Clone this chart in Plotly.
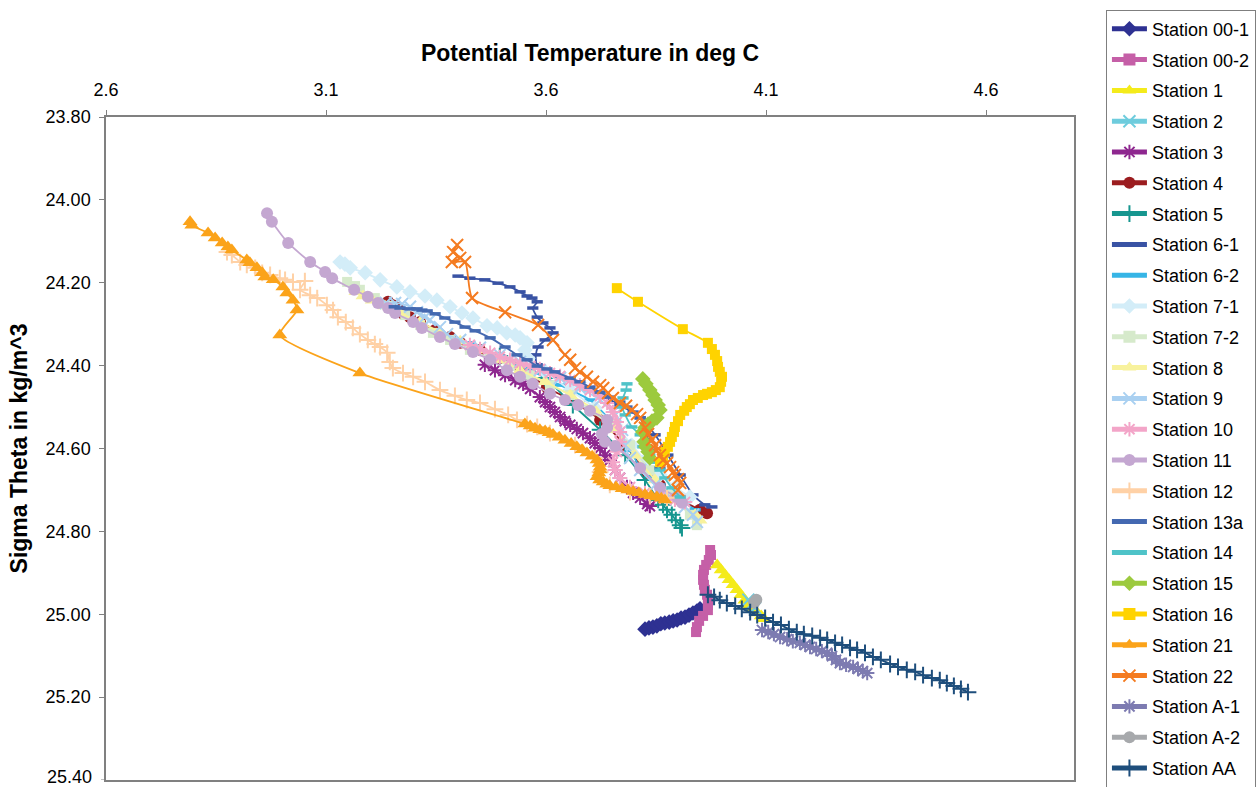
import plotly.graph_objects as go

# ---------------- data (Potential temperature, Sigma-theta) ----------------
names = ["Station 00-1", "Station 00-2", "Station 1", "Station 2", "Station 3", "Station 4",
         "Station 5", "Station 6-1", "Station 6-2", "Station 7-1", "Station 7-2", "Station 8",
         "Station 9", "Station 10", "Station 11", "Station 12", "Station 13a", "Station 14",
         "Station 15", "Station 16", "Station 21", "Station 22", "Station A-1", "Station A-2",
         "Station AA"]

s001_t = [3.825, 3.834, 3.843, 3.852, 3.861, 3.870, 3.880, 3.889, 3.898, 3.907, 3.916, 3.925, 3.934, 3.943, 3.950]
s001_s = [25.036, 25.033, 25.031, 25.028, 25.023, 25.021, 25.019, 25.016, 25.014, 25.009, 25.007, 25.002, 24.997, 24.992, 24.987]

s002_t = [3.973, 3.975, 3.970, 3.964, 3.959, 3.957, 3.957, 3.959, 3.961, 3.966, 3.968, 3.968, 3.968, 3.957, 3.948, 3.943, 3.941]
s002_s = [24.845, 24.857, 24.869, 24.881, 24.893, 24.905, 24.917, 24.929, 24.941, 24.953, 24.966, 24.978, 24.990, 25.004, 25.016, 25.031, 25.043]

s1_t = [3.989, 3.998, 4.007, 4.016, 4.025, 4.034, 4.043, 4.052, 4.061, 4.070, 4.080, 4.089, 4.095]
s1_s = [24.881, 24.893, 24.905, 24.917, 24.929, 24.941, 24.953, 24.966, 24.978, 24.987, 24.997, 25.004, 25.011]

s2_t = [4.060, 4.068, 4.075]
s2_s = [24.965, 24.975, 24.985]

s3_t = [3.461, 3.484, 3.507, 3.530, 3.548, 3.564, 3.586, 3.598, 3.609, 3.620, 3.632, 3.643, 3.655, 3.670,
        3.684, 3.700, 3.711, 3.723, 3.734, 3.745, 3.757, 3.768, 3.784, 3.798, 3.814, 3.830, 3.836]
s3_s = [24.398, 24.411, 24.423, 24.435, 24.444, 24.456, 24.476, 24.488, 24.500, 24.512, 24.524, 24.534, 24.543, 24.553,
        24.563, 24.575, 24.587, 24.599, 24.616, 24.628, 24.652, 24.671, 24.693, 24.707, 24.719, 24.734, 24.739]

s4_t = [3.241, 3.252, 3.264, 3.275, 3.291, 3.314, 3.348, 3.382, 3.405, 3.450, 3.495, 3.541, 3.602, 3.655,
        3.723, 3.780, 3.814, 3.830, 3.859, 3.905, 3.950, 3.966]
s4_s = [24.246, 24.254, 24.261, 24.275, 24.283, 24.295, 24.314, 24.331, 24.345, 24.362, 24.382, 24.406, 24.452, 24.483,
        24.531, 24.592, 24.640, 24.659, 24.688, 24.724, 24.748, 24.756]

s5_t = [3.495, 3.541, 3.598, 3.661, 3.723, 3.780, 3.825, 3.855, 3.866, 3.875, 3.886, 3.895, 3.905, 3.909]
s5_s = [24.377, 24.398, 24.430, 24.495, 24.555, 24.616, 24.676, 24.724, 24.736, 24.748, 24.760, 24.773, 24.785, 24.792]

s61_t = [3.400, 3.427, 3.461, 3.491, 3.518, 3.541, 3.557, 3.568, 3.580, 3.570, 3.580, 3.593, 3.609, 3.616,
         3.598, 3.582, 3.577, 3.580, 3.632, 3.700, 3.768, 3.814, 3.848, 3.877, 3.905, 3.934, 3.961, 3.977]
s61_s = [24.184, 24.189, 24.193, 24.201, 24.210, 24.222, 24.232, 24.237, 24.246, 24.261, 24.283, 24.297, 24.309, 24.321,
         24.338, 24.355, 24.374, 24.398, 24.427, 24.459, 24.495, 24.526, 24.567, 24.616, 24.664, 24.712, 24.736, 24.741]

s62_t = [3.427, 3.495, 3.564, 3.632, 3.700, 3.745, 3.791, 3.814, 3.859, 3.905, 3.939]
s62_s = [24.345, 24.377, 24.411, 24.447, 24.483, 24.531, 24.604, 24.645, 24.688, 24.724, 24.748]

s71_t = [3.132, 3.143, 3.155, 3.189, 3.223, 3.261, 3.291, 3.325, 3.352, 3.382, 3.409, 3.434, 3.466, 3.489, 3.511,
         3.530, 3.541, 3.557, 3.552, 3.559, 3.598, 3.655, 3.711, 3.757, 3.795, 3.825, 3.859, 3.893, 3.927]
s71_s = [24.150, 24.155, 24.164, 24.176, 24.193, 24.210, 24.222, 24.232, 24.242, 24.258, 24.273, 24.285, 24.304, 24.309, 24.321,
         24.326, 24.333, 24.345, 24.362, 24.382, 24.415, 24.459, 24.502, 24.543, 24.592, 24.628, 24.664, 24.693, 24.717]

s72_t = [3.148, 3.166, 3.177, 3.211, 3.245, 3.280, 3.314, 3.343, 3.382, 3.427, 3.473, 3.518, 3.564, 3.609,
         3.655, 3.700, 3.745, 3.791, 3.836, 3.882, 3.927, 3.943]
s72_s = [24.198, 24.208, 24.217, 24.237, 24.256, 24.278, 24.302, 24.321, 24.338, 24.362, 24.382, 24.401, 24.423, 24.447,
         24.471, 24.507, 24.543, 24.592, 24.652, 24.712, 24.760, 24.785]

s8_t = [3.168, 3.184, 3.205, 3.234, 3.268, 3.314, 3.359, 3.405, 3.450, 3.495, 3.541, 3.598, 3.655, 3.711,
        3.757, 3.802, 3.848, 3.893, 3.939, 3.950]
s8_s = [24.222, 24.232, 24.242, 24.256, 24.273, 24.295, 24.319, 24.341, 24.362, 24.386, 24.411, 24.439, 24.471, 24.507,
        24.555, 24.616, 24.676, 24.724, 24.760, 24.773]

s9_t = [3.236, 3.257, 3.273, 3.291, 3.307, 3.325, 3.336, 3.359, 3.375, 3.405, 3.450, 3.495, 3.541, 3.586,
        3.632, 3.677, 3.723, 3.757, 3.773, 3.780, 3.791, 3.814, 3.848, 3.882, 3.916, 3.934, 3.943]
s9_s = [24.249, 24.249, 24.251, 24.258, 24.271, 24.283, 24.290, 24.307, 24.324, 24.338, 24.357, 24.374, 24.391, 24.411,
        24.430, 24.454, 24.483, 24.519, 24.555, 24.592, 24.623, 24.652, 24.688, 24.717, 24.741, 24.760, 24.777]

s10_t = [3.427, 3.450, 3.473, 3.495, 3.518, 3.541, 3.564, 3.586, 3.609, 3.632, 3.655, 3.677, 3.700, 3.723,
         3.739, 3.752, 3.761, 3.768, 3.768, 3.761, 3.752, 3.757, 3.768, 3.791, 3.825, 3.859, 3.893, 3.916]
s10_s = [24.350, 24.360, 24.369, 24.379, 24.386, 24.394, 24.401, 24.408, 24.418, 24.425, 24.435, 24.447, 24.459, 24.473,
         24.490, 24.512, 24.536, 24.560, 24.584, 24.608, 24.633, 24.652, 24.671, 24.693, 24.707, 24.717, 24.724, 24.729]

s11_t = [2.966, 2.977, 3.014, 3.064, 3.098, 3.114, 3.164, 3.195, 3.218, 3.241, 3.257, 3.298, 3.318, 3.359, 3.393,
         3.434, 3.473, 3.511, 3.541, 3.570, 3.609, 3.643, 3.673, 3.700, 3.739, 3.739, 3.727, 3.734, 3.757, 3.814,
         3.859, 3.898, 3.909]
s11_s = [24.032, 24.053, 24.104, 24.150, 24.174, 24.189, 24.217, 24.234, 24.249, 24.261, 24.273, 24.295, 24.309, 24.331, 24.348,
         24.367, 24.386, 24.411, 24.427, 24.444, 24.468, 24.483, 24.495, 24.509, 24.531, 24.550, 24.565, 24.584, 24.594, 24.647,
         24.695, 24.717, 24.731]

s12_t = [2.875, 2.886, 2.905, 2.920, 2.939, 2.955, 2.973, 2.995, 3.007, 3.025, 3.052, 3.041, 3.064, 3.080, 3.102, 3.116,
         3.127, 3.145, 3.161, 3.177, 3.195, 3.211, 3.223, 3.239, 3.245, 3.252, 3.275, 3.298, 3.325, 3.359, 3.393, 3.420,
         3.450, 3.484, 3.514, 3.534, 3.557, 3.580, 3.609, 3.666, 3.711, 3.723, 3.745, 3.791, 3.836, 3.875]
s12_s = [24.126, 24.133, 24.150, 24.157, 24.164, 24.176, 24.181, 24.189, 24.193, 24.198, 24.196, 24.217, 24.230, 24.237, 24.254, 24.266,
         24.283, 24.295, 24.309, 24.324, 24.338, 24.348, 24.355, 24.369, 24.391, 24.406, 24.418, 24.427, 24.439, 24.459, 24.473, 24.483,
         24.490, 24.505, 24.519, 24.531, 24.541, 24.548, 24.563, 24.592, 24.623, 24.657, 24.688, 24.705, 24.715, 24.719]

s13a_t = [3.255, 3.268, 3.291, 3.307, 3.318, 3.330, 3.348, 3.370, 3.393, 3.416, 3.439, 3.473, 3.507, 3.534, 3.557, 3.580,
          3.602, 3.620, 3.655, 3.677, 3.700, 3.723, 3.745, 3.768, 3.784, 3.798, 3.814, 3.825, 3.832, 3.836, 3.848, 3.859]
s13a_s = [24.258, 24.261, 24.263, 24.263, 24.266, 24.268, 24.275, 24.285, 24.295, 24.307, 24.316, 24.333, 24.355, 24.374, 24.386, 24.401,
          24.408, 24.415, 24.430, 24.439, 24.452, 24.464, 24.476, 24.488, 24.500, 24.512, 24.526, 24.555, 24.579, 24.604, 24.628, 24.647]

s14_t = [3.784, 3.782, 3.775, 3.773, 3.780, 3.795, 3.814, 3.820, 3.836, 3.848, 3.859, 3.870, 3.886, 3.905]
s14_s = [24.444, 24.459, 24.478, 24.500, 24.519, 24.548, 24.567, 24.596, 24.616, 24.633, 24.652, 24.671, 24.695, 24.717]

s15_t = [3.820, 3.827, 3.836, 3.843, 3.848, 3.855, 3.859, 3.852, 3.841, 3.832, 3.825, 3.820, 3.823, 3.827, 3.832, 3.836]
s15_s = [24.432, 24.444, 24.459, 24.471, 24.483, 24.495, 24.507, 24.526, 24.534, 24.541, 24.550, 24.560, 24.584, 24.596, 24.608, 24.623]

s16_t = [3.761, 3.809, 3.911, 3.968, 3.977, 3.984, 3.989, 3.991, 3.995, 4.000, 3.998, 3.995, 3.986, 3.977, 3.966, 3.957,
         3.945, 3.934, 3.927, 3.920, 3.914, 3.905, 3.900, 3.893, 3.891, 3.886, 3.882, 3.877, 3.870, 3.866, 3.859]
s16_s = [24.213, 24.246, 24.312, 24.345, 24.360, 24.374, 24.389, 24.403, 24.415, 24.427, 24.439, 24.452, 24.459, 24.464, 24.468, 24.471,
         24.478, 24.483, 24.493, 24.500, 24.509, 24.519, 24.534, 24.548, 24.560, 24.572, 24.584, 24.596, 24.608, 24.620, 24.633]

s21_t = [2.791, 2.795, 2.832, 2.848, 2.864, 2.877, 2.886, 2.920, 2.927, 2.943, 2.955, 2.961, 2.980, 3.002, 3.011, 3.025,
         3.034, 2.995, 3.177, 3.552, 3.564, 3.575, 3.586, 3.598, 3.607, 3.616, 3.630, 3.643, 3.657, 3.670, 3.682, 3.693,
         3.705, 3.716, 3.721, 3.723, 3.723, 3.720, 3.716, 3.722, 3.730, 3.738, 3.745, 3.759, 3.773, 3.786, 3.798, 3.811,
         3.825, 3.839, 3.852, 3.862, 3.870]
s21_s = [24.053, 24.061, 24.080, 24.092, 24.104, 24.114, 24.121, 24.145, 24.152, 24.164, 24.176, 24.186, 24.193, 24.210, 24.225, 24.242,
         24.266, 24.326, 24.418, 24.541, 24.546, 24.551, 24.555, 24.558, 24.562, 24.566, 24.573, 24.580, 24.588, 24.596, 24.603, 24.611,
         24.619, 24.628, 24.636, 24.645, 24.652, 24.659, 24.668, 24.676, 24.681, 24.686, 24.690, 24.693, 24.697, 24.700, 24.704, 24.707,
         24.711, 24.714, 24.717, 24.720, 24.724]

s22_t = [3.398, 3.389, 3.405, 3.386, 3.416, 3.432, 3.507, 3.582, 3.616, 3.643, 3.655, 3.666, 3.677, 3.693, 3.707, 3.723,
         3.730, 3.741, 3.752, 3.768, 3.782, 3.795, 3.807, 3.814, 3.825, 3.832, 3.841, 3.848, 3.852, 3.859, 3.866, 3.875,
         3.882, 3.889, 3.893, 3.900, 3.905, 3.900]
s22_s = [24.109, 24.126, 24.140, 24.150, 24.150, 24.237, 24.271, 24.302, 24.338, 24.374, 24.386, 24.406, 24.415, 24.427, 24.439, 24.447,
         24.454, 24.466, 24.478, 24.490, 24.497, 24.507, 24.517, 24.526, 24.550, 24.565, 24.579, 24.592, 24.604, 24.616, 24.628, 24.635,
         24.645, 24.657, 24.664, 24.674, 24.683, 24.700]

sA1_t = [4.091, 4.105, 4.118, 4.132, 4.148, 4.161, 4.177, 4.189, 4.200, 4.214, 4.227, 4.239, 4.250, 4.259, 4.268,
         4.282, 4.298, 4.309, 4.320, 4.330]
sA1_s = [25.038, 25.043, 25.048, 25.055, 25.060, 25.065, 25.069, 25.074, 25.079, 25.084, 25.089, 25.093, 25.101, 25.110, 25.118,
         25.122, 25.127, 25.132, 25.137, 25.142]

sA2_t = [4.073, 4.078]
sA2_s = [24.972, 24.965]

sAA_t = [3.968, 3.982, 3.995, 4.011, 4.030, 4.045, 4.064, 4.080, 4.098, 4.116, 4.134, 4.152, 4.170, 4.186, 4.205, 4.223,
         4.239, 4.257, 4.273, 4.291, 4.307, 4.325, 4.343, 4.361, 4.382, 4.400, 4.420, 4.439, 4.457, 4.477, 4.495, 4.511,
         4.527, 4.543, 4.559]
sAA_s = [24.953, 24.958, 24.966, 24.973, 24.980, 24.987, 24.995, 25.002, 25.009, 25.019, 25.026, 25.036, 25.043, 25.048, 25.052, 25.057,
         25.062, 25.069, 25.074, 25.081, 25.086, 25.093, 25.103, 25.110, 25.120, 25.127, 25.134, 25.139, 25.147, 25.154, 25.159, 25.166,
         25.173, 25.180, 25.188]

x_ticks = [2.6, 3.1, 3.6, 4.1, 4.6]
y_ticks = [23.8, 24.0, 24.2, 24.4, 24.6, 24.8, 25.0, 25.2, 25.4]

temps = [s001_t, s002_t, s1_t, s2_t, s3_t, s4_t, s5_t, s61_t, s62_t, s71_t, s72_t, s8_t, s9_t, s10_t,
         s11_t, s12_t, s13a_t, s14_t, s15_t, s16_t, s21_t, s22_t, sA1_t, sA2_t, sAA_t]
sigmas = [s001_s, s002_s, s1_s, s2_s, s3_s, s4_s, s5_s, s61_s, s62_s, s71_s, s72_s, s8_s, s9_s, s10_s,
          s11_s, s12_s, s13a_s, s14_s, s15_s, s16_s, s21_s, s22_s, sA1_s, sA2_s, sAA_s]

# ---------------- styles ----------------
colors = ["#2E3192", "#C55FA7", "#F4EB1B", "#6ECCDD", "#8E278F", "#9B1C1F", "#16968F", "#3953A4",
          "#36B5E6", "#D3EDF8", "#D6EACB", "#F8F29D", "#A9D0F1", "#F3A5C8", "#C4A7D1", "#FFD1A6",
          "#4469B1", "#4FC3C8", "#9CCA3E", "#FFD300", "#FBA31A", "#F47B20", "#7D7BB1", "#A7A9AC", "#1E4E7C"]
symbols = ["diamond", "square", "triangle-up", "x-thin-open", "asterisk-open", "circle", "cross-thin-open",
           "line-ew-open", "line-ew-open", "diamond", "square", "triangle-up", "x-thin-open", "asterisk-open",
           "circle", "cross-thin-open", "line-ew-open", "line-ew-open", "diamond", "square", "triangle-up",
           "x-thin-open", "asterisk-open", "circle", "cross-thin-open"]
sizes = {"diamond": 12, "square": 10, "triangle-up": 13, "circle": 12,
         "x-thin-open": 12, "asterisk-open": 12, "cross-thin-open": 12, "line-ew-open": 8}
widths = {"x-thin-open": 2, "asterisk-open": 2, "cross-thin-open": 2, "line-ew-open": 3.5}

FONT = "Liberation Sans, Arial, sans-serif"

fig = go.Figure()
for name, t, s, c, sym in zip(names, temps, sigmas, colors, symbols):
    if sym in widths:
        mk = dict(symbol=sym, size=sizes[sym], color=c, line=dict(color=c, width=widths[sym]))
    else:
        mk = dict(symbol=sym, size=sizes[sym], color=c, line=dict(width=0))
    fig.add_trace(go.Scatter(
        x=t, y=s, name=name, mode="lines+markers", legendgroup=name,
        line=dict(color=c, width=1.8, shape="spline", smoothing=0.6),
        marker=mk,
    ))

fig.add_annotation(
    x=0, xref="paper", xanchor="right", xshift=-12,
    y=25.4, yref="y", yanchor="middle", yshift=3, showarrow=False,
    text="25.40", font=dict(family=FONT, size=18, color="#000000"),
)

fig.update_layout(
    width=1260, height=787,
    margin=dict(l=106, r=186, t=117, b=7, autoexpand=False),
    paper_bgcolor="white", plot_bgcolor="white",
    font=dict(family=FONT, size=18, color="#000000"),
    showlegend=True,
    legend=dict(
        x=1.033, y=1.162, xanchor="left", yanchor="top",
        bordercolor="#7F7F7F", borderwidth=1, bgcolor="white",
        font=dict(family=FONT, size=18),
        itemsizing="constant", traceorder="grouped", tracegroupgap=4.4,
        itemwidth=35, maxheight=2000,
    ),
    xaxis=dict(
        side="top", range=[2.6, 4.8], tickvals=x_ticks, ticktext=[f"{v:.1f}" for v in x_ticks],
        ticks="outside", ticklen=5, tickcolor="#808080", showgrid=False, zeroline=False,
        showline=True, linecolor="#808080", linewidth=1.5, mirror=True, ticklabelstandoff=7,
        title=dict(text="<b>Potential Temperature in deg C</b>", font=dict(family=FONT, size=23), standoff=12),
    ),
    yaxis=dict(
        range=[25.4, 23.8], tickvals=y_ticks[:-1], ticktext=[f"{v:.2f}" for v in y_ticks[:-1]],
        ticks="outside", ticklen=5, tickcolor="#808080", showgrid=False, zeroline=False,
        showline=True, linecolor="#808080", linewidth=1.5, mirror=True, ticklabelstandoff=5,
        title=dict(text="<b>Sigma Theta in kg/m^3</b>", font=dict(family=FONT, size=23), standoff=12),
    ),
)
# tick mark at the bottom end of the y axis (label drawn as annotation above)
fig.add_shape(type="line", xref="paper", yref="y", x0=-5 / 968, x1=0, y0=y_ticks[-1], y1=y_ticks[-1],
              line=dict(color="#808080", width=1))

fig.write_html("out.html")
